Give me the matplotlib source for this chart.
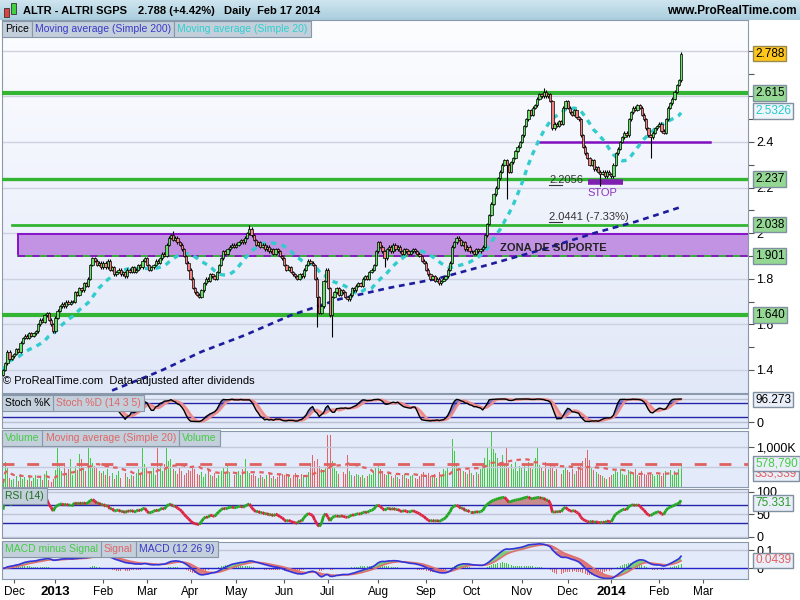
import numpy as np
import pandas as pd
import matplotlib
matplotlib.use("Agg")
import matplotlib.pyplot as plt
from matplotlib.patches import Rectangle
from matplotlib.collections import LineCollection
from matplotlib.colors import LinearSegmentedColormap
from matplotlib import transforms

plt.rcParams['font.family'] = ['Liberation Sans', 'DejaVu Sans']

# daily closes, one list per month
first_open = 1.38
nov12 = [1.40, 1.43, 1.48, 1.45, 1.46]
dec12 = [1.47, 1.49, 1.48, 1.52, 1.54, 1.55, 1.54, 1.56, 1.55, 1.56, 1.57, 1.60, 1.62, 1.61, 1.64,
         1.65, 1.62, 1.60, 1.57]
jan13 = [1.63, 1.66, 1.68, 1.69, 1.68, 1.70, 1.69, 1.70, 1.70, 1.74, 1.73, 1.76, 1.75, 1.78, 1.77,
         1.80, 1.86, 1.89, 1.88, 1.86, 1.87, 1.85]
feb13 = [1.87, 1.85, 1.88, 1.84, 1.85, 1.82, 1.83, 1.84, 1.82, 1.83, 1.81, 1.84, 1.83, 1.85, 1.83,
         1.84, 1.86, 1.85, 1.88, 1.89]
mar13 = [1.86, 1.84, 1.85, 1.86, 1.88, 1.87, 1.89, 1.91, 1.90, 1.95, 1.98, 1.99, 1.97, 1.98, 1.96,
         1.95, 1.93, 1.90, 1.87, 1.84]
apr13 = [1.80, 1.76, 1.74, 1.73, 1.72, 1.75, 1.78, 1.80, 1.79, 1.82, 1.81, 1.80, 1.83, 1.86, 1.89,
         1.92, 1.91, 1.93, 1.94, 1.95, 1.94]
may13 = [1.95, 1.96, 1.97, 1.96, 1.98, 2.00, 2.02, 1.99, 1.97, 1.95, 1.96, 1.94, 1.95, 1.93, 1.94,
         1.92, 1.93, 1.91, 1.93, 1.92, 1.90, 1.89]
jun13 = [1.86, 1.84, 1.85, 1.83, 1.82, 1.81, 1.80, 1.82, 1.81, 1.84, 1.86, 1.88, 1.87, 1.86, 1.80,
         1.72, 1.65, 1.68, 1.79, 1.84]
jul13 = [1.76, 1.64, 1.72, 1.74, 1.76, 1.73, 1.75, 1.74, 1.72, 1.71, 1.73, 1.76, 1.75, 1.77, 1.78,
         1.77, 1.80, 1.81, 1.80, 1.83, 1.84, 1.86, 1.92]
aug13 = [1.96, 1.94, 1.92, 1.89, 1.93, 1.94, 1.92, 1.95, 1.93, 1.94, 1.92, 1.91, 1.93, 1.92, 1.91,
         1.92, 1.93, 1.92, 1.91, 1.90, 1.88, 1.87]
sep13 = [1.84, 1.82, 1.80, 1.81, 1.79, 1.80, 1.78, 1.79, 1.80, 1.81, 1.84, 1.87, 1.94, 1.96, 1.98,
         1.97, 1.95, 1.96, 1.93, 1.94, 1.92]
oct13 = [1.92, 1.91, 1.93, 1.92, 1.93, 1.94, 1.99, 2.04, 2.08, 2.13, 2.17, 2.20, 2.24, 2.27, 2.30,
         2.32, 2.30, 2.27, 2.31, 2.33, 2.36, 2.38, 2.40]
nov13 = [2.43, 2.47, 2.50, 2.54, 2.52, 2.55, 2.56, 2.59, 2.61, 2.60, 2.62, 2.60, 2.61, 2.58, 2.46,
         2.48, 2.47, 2.49, 2.48, 2.55, 2.58]
dec13 = [2.55, 2.53, 2.52, 2.54, 2.51, 2.50, 2.43, 2.38, 2.35, 2.33, 2.30, 2.32, 2.28, 2.29, 2.27,
         2.26, 2.27, 2.25, 2.27, 2.26]
jan14 = [2.25, 2.30, 2.35, 2.37, 2.40, 2.42, 2.44, 2.43, 2.50, 2.53, 2.55, 2.54, 2.56, 2.55, 2.52,
         2.50, 2.46, 2.43, 2.42, 2.44, 2.46, 2.47]
feb14 = [2.48, 2.45, 2.44, 2.50, 2.55, 2.57, 2.59, 2.62, 2.65, 2.67, 2.788]

# daily volume in thousands of shares
v_nov12 = [90, 620, 480, 220, 160]
v_dec12 = [180, 260, 150, 320, 200, 240, 160, 300, 140, 220, 280, 190, 250, 160, 310, 380, 170, 120, 200]
v_jan13 = [420, 1000, 520, 380, 600, 340, 450, 680, 300, 520, 410, 820, 700, 460, 380, 1000, 720, 580,
           520, 460, 400, 350]
v_feb13 = [380, 300, 450, 260, 340, 200, 300, 380, 220, 280, 350, 240, 200, 300, 260, 350, 440, 320,
           1000, 560]
v_mar13 = [460, 340, 380, 480, 300, 1000, 520, 400, 560, 1000, 640, 700, 450, 400, 320, 480, 380, 300,
           340, 420]
v_apr13 = [400, 520, 440, 320, 280, 360, 240, 320, 420, 300, 260, 340, 220, 280, 400, 470, 320, 540,
           360, 300, 280]
v_may13 = [320, 380, 300, 440, 700, 400, 340, 280, 320, 260, 220, 300, 240, 200, 280, 320, 220, 260,
           190, 240, 280, 320]
v_jun13 = [300, 260, 320, 220, 280, 340, 240, 200, 320, 280, 260, 370, 600, 780, 650, 700, 520, 440,
           400, 460]
v_jul13 = [1290, 1290, 640, 460, 400, 320, 440, 370, 320, 780, 380, 300, 260, 320, 280, 240, 300, 220,
           260, 320, 280, 360, 470]
v_aug13 = [520, 440, 400, 320, 280, 340, 260, 220, 300, 240, 200, 280, 320, 220, 180, 260, 300, 220,
           200, 270, 320, 360]
v_sep13 = [300, 340, 260, 280, 320, 220, 370, 300, 440, 400, 470, 620, 1190, 900, 580, 500, 440, 400,
           370, 320, 420]
v_oct13 = [340, 300, 370, 320, 440, 520, 720, 1000, 670, 1370, 950, 840, 720, 620, 780, 540, 970, 500,
           570, 440, 620, 400, 520]
v_nov13 = [470, 540, 400, 620, 500, 440, 720, 970, 540, 470, 400, 620, 440, 580, 500, 400, 440, 370,
           320, 420, 500]
v_dec13 = [420, 370, 440, 320, 400, 470, 520, 640, 720, 915, 670, 500, 420, 370, 320, 300, 270, 220,
           200, 240]
v_jan14 = [280, 320, 400, 370, 440, 320, 300, 280, 420, 370, 320, 440, 300, 260, 380, 320, 300, 280,
           340, 320, 270, 300]
v_feb14 = [280, 260, 330, 400, 360, 420, 300, 380, 340, 450, 578.79]

# long wicks
low_wicks = {'2013-06-24': 1.59, '2013-07-03': 1.545, '2013-08-06': 1.85, '2013-10-23': 2.15,
             '2013-12-23': 2.2056, '2014-01-28': 2.33}
high_wicks = {'2013-05-10': 2.036, '2013-11-15': 2.635, '2013-03-19': 2.01}

# 200 day average read at a few dates
ma200_dates = ['2013-02-07', '2013-03-11', '2013-04-09', '2013-05-08', '2013-06-06', '2013-07-08',
               '2013-08-08', '2013-09-09', '2013-10-10', '2013-11-15', '2013-12-18', '2014-01-17',
               '2014-02-17']
ma200_vals = [1.31, 1.395, 1.48, 1.553, 1.64, 1.71, 1.76, 1.80, 1.86, 1.93, 2.00, 2.05, 2.115]

levels = [2.615, 2.237, 2.038, 1.640]
zone = (1.901, 1.9965)

closes = np.array(nov12 + dec12 + jan13 + feb13 + mar13 + apr13 + may13 + jun13 + jul13 + aug13 +
                  sep13 + oct13 + nov13 + dec13 + jan14 + feb14)
volumes = np.array(v_nov12 + v_dec12 + v_jan13 + v_feb13 + v_mar13 + v_apr13 + v_may13 + v_jun13 +
                   v_jul13 + v_aug13 + v_sep13 + v_oct13 + v_nov13 + v_dec13 + v_jan14 + v_feb14) * 1000.0

holidays = pd.to_datetime(['2012-12-25', '2012-12-26', '2013-01-01', '2013-03-29', '2013-04-01',
                           '2013-05-01', '2013-12-25', '2013-12-26', '2014-01-01'])
days = pd.bdate_range('2012-11-26', '2014-03-31')
days = days[~days.isin(holidays)]

n = len(closes)
x = np.arange(n)
opens = np.r_[first_open, closes[:-1]]
up = closes >= opens
highs = np.maximum(opens, closes) + 0.006
lows = np.minimum(opens, closes) - 0.006
for d, v in low_wicks.items():
    lows[days.get_loc(pd.Timestamp(d))] = v
for d, v in high_wicks.items():
    highs[days.get_loc(pd.Timestamp(d))] = v

c = pd.Series(closes)
ma20 = c.rolling(20, min_periods=1).mean()
ma200_x = [days.get_loc(pd.Timestamp(d)) for d in ma200_dates]

# stochastic 14 3 5
ll = pd.Series(lows).rolling(14, min_periods=1).min()
hh = pd.Series(highs).rolling(14, min_periods=1).max()
raw = 100 * (c - ll) / (hh - ll)
stk = raw.rolling(3, min_periods=1).mean()
std = stk.rolling(5, min_periods=1).mean()

# RSI 14
dlt = c.diff().fillna(0)
gain = dlt.clip(lower=0).ewm(alpha=1 / 14, adjust=False).mean()
loss = (-dlt.clip(upper=0)).ewm(alpha=1 / 14, adjust=False).mean()
rsi = (100 - 100 / (1 + gain / loss.replace(0, 1e-9))).values
rsi[0] = 60

# MACD 12 26 9
macd = c.ewm(span=12, adjust=False).mean() - c.ewm(span=26, adjust=False).mean()
sig = macd.ewm(span=9, adjust=False).mean()
hist = macd - sig

vma = pd.Series(volumes).rolling(20, min_periods=1).mean()

XL = (-0.5, 341.7)
fig = plt.figure(figsize=(8, 6), dpi=100)
fig.patch.set_facecolor('white')
L, W = 2 / 800, 746 / 800
EDGE = '#8a9aac'


def panel(top, bottom, bg='#e3eaf9'):
    ax = fig.add_axes([L, 1 - bottom / 600, W, (bottom - top) / 600])
    ax.set_facecolor(bg)
    for s in ax.spines.values():
        s.set_color(EDGE)
    ax.yaxis.tick_right()
    ax.tick_params(axis='y', labelsize=9, length=4, color='#555555', pad=2)
    ax.tick_params(axis='x', bottom=False, labelbottom=False)
    return ax


def tabs(y_px, items):
    r = fig.canvas.get_renderer()
    xp = 3
    for label, col in items:
        t = fig.text((xp + 2) / 800, 1 - y_px / 600, label, color=col, fontsize=7.5, va='center',
                     ha='left', zorder=10,
                     bbox=dict(boxstyle='square,pad=0.3', fc='#c3cfdb', ec='#8797a8', lw=0.8))
        bb = t.get_window_extent(renderer=r)
        xp += bb.width + 6


def valbox(ax, y, text, tc, fc, ec='#8090a0'):
    tr = transforms.blended_transform_factory(fig.transFigure, ax.transData)
    ax.text(755 / 800, y, text, transform=tr, color=tc, fontsize=8.5, va='center', ha='left',
            zorder=20, clip_on=False,
            bbox=dict(boxstyle='square,pad=0.15', fc=fc, ec=ec, lw=1))


# title bar
tb = fig.add_axes([0, 1 - 20 / 600, 1, 20 / 600])
tb.imshow(np.linspace(0, 1, 50).reshape(-1, 1), aspect='auto', extent=[0, 1, 0, 1],
          cmap=LinearSegmentedColormap.from_list('tb', ['#cfe5ef', '#a9cddd']))
tb.set_xlim(0, 1)
tb.set_ylim(0, 1)
tb.axis('off')
tb.add_patch(Rectangle((4 / 800, 0.15), 5 / 800, 0.45, fc='#e04040', ec='#333333', lw=0.6))
tb.add_patch(Rectangle((11 / 800, 0.3), 5 / 800, 0.55, fc='#40d040', ec='#333333', lw=0.6))
fig.text(23 / 800, 1 - 11 / 600, 'ALTR - ALTRI SGPS', fontsize=8, fontweight='bold', va='center')
fig.text(138 / 800, 1 - 11 / 600, '2.788 (+4.42%)', fontsize=8, fontweight='bold', va='center')
fig.text(224 / 800, 1 - 11 / 600, 'Daily  Feb 17 2014', fontsize=8, fontweight='bold', va='center')
fig.text(797 / 800, 1 - 11 / 600, 'www.ProRealTime.com', fontsize=8.5, fontweight='bold',
         va='center', ha='right')

# main price panel
ax = panel(20, 393)
YL = (1.299, 2.935)
ax.imshow(np.linspace(0, 1, 100).reshape(-1, 1), aspect='auto', extent=[XL[0], XL[1], YL[0], YL[1]],
          cmap=LinearSegmentedColormap.from_list('bg', ['#fcfdff', '#e1e8f8']), zorder=0)
for g in np.arange(1.4, 2.81, 0.2):
    ax.axhline(g, color='#cdd1e2', lw=1, zorder=1)
ax.add_patch(Rectangle((6.8, zone[0]), 400, zone[1] - zone[0], fc='#c293e2', ec='#8a10c8', lw=1.4,
                       zorder=2))
ax.plot([6.8, 400], [zone[0], zone[0]], color='#33bb33', lw=1.3, zorder=3)
ax.plot([6.8, 400], [zone[0], zone[0]], color='#8a10c8', lw=1.3, dashes=(4, 4), zorder=3)
ax.axhline(levels[0], color='#33b533', lw=3, zorder=3)
ax.axhline(levels[1], color='#33b533', lw=2.4, zorder=3)
ax.plot([4, 400], [levels[2], levels[2]], color='#33b533', lw=2, zorder=3)
ax.axhline(levels[3], color='#33b533', lw=3, zorder=3)
ax.plot([246.3, 324.3], [2.4, 2.4], color='#8010c0', lw=1.8, zorder=3)
ax.plot([268.3, 284.4], [2.226, 2.226], color='#8020b0', lw=4, solid_capstyle='butt', zorder=3)

ax.plot(ma200_x, ma200_vals, color='#1c1c9c', lw=1.9, dashes=(2.2, 1.8), zorder=4)
ax.plot(x, ma20, color='#33cccc', lw=2.4, dashes=(1.6, 1.6), zorder=4)

ax.vlines(x, lows, highs, color='black', lw=0.8, zorder=5)
body = np.maximum(np.abs(closes - opens), 0.004)
ax.bar(x, body, bottom=np.minimum(opens, closes), width=1.05,
       color=np.where(up, '#66e066', '#f28282'), edgecolor='black', linewidth=0.5, zorder=6)

ax.text(250.4, 2.233, '2.2056', fontsize=8, color='#333333', va='center', zorder=7)
ax.plot([250.4, 256.5], [2.212, 2.212], color='#333333', lw=0.8, zorder=7)
ax.text(274.7, 2.176, 'STOP', fontsize=8, color='#9030c0', va='center', ha='center', zorder=7)
ax.text(250.4, 2.071, '2.0441 (-7.33%)', fontsize=8, color='#333333', va='center', zorder=7)
ax.plot([250.4, 256.5], [2.05, 2.05], color='#333333', lw=0.8, zorder=7)
ax.text(228, 1.937, 'ZONA DE SUPORTE', fontsize=8, fontweight='bold', color='#222222', va='center',
        zorder=7)
ax.text(1 / 746, 0.02, '\u00a9 ProRealTime.com  Data adjusted after dividends', transform=ax.transAxes,
        fontsize=8, va='bottom', zorder=7)

ax.set_xlim(*XL)
ax.set_ylim(*YL)
ax.set_yticks(np.arange(1.4, 2.81, 0.1).round(1))
ax.set_yticklabels(['1.4', '', '1.6', '', '1.8', '', '2', '', '2.2', '', '2.4', '', '', '', ''])
valbox(ax, 2.788, '2.788', 'black', '#ffc61e', '#9a8a50')
valbox(ax, 2.615, '2.615', 'black', '#94d894')
valbox(ax, 2.536, '2.5326', '#22cccc', '#f0f5fb')
valbox(ax, 2.237, '2.237', 'black', '#94d894')
valbox(ax, 2.038, '2.038', 'black', '#94d894')
valbox(ax, 1.901, '1.901', 'black', '#94d894')
valbox(ax, 1.640, '1.640', 'black', '#94d894')
tabs(29, [('Price', 'black'), ('Moving average (Simple 200)', '#3a3ac8'),
          ('Moving average (Simple 20)', '#2fd0d0')])

# stochastic panel
a1 = panel(394, 428)
a1.axhline(0, color='#b8bfd0', lw=1)
a1.axhline(100, color='#b8bfd0', lw=1)
a1.fill_between(x, stk, std, where=stk >= std, color='#7a7ad0', interpolate=True, lw=0)
a1.fill_between(x, stk, std, where=stk < std, color='#f2a8a8', interpolate=True, lw=0)
a1.axhline(80, color='#2424a8', lw=1)
a1.axhline(20, color='#2424a8', lw=1)
a1.plot(x, std, color='#ee8c8c', lw=1.8)
a1.plot(x, stk, color='black', lw=1)
a1.set_xlim(*XL)
a1.set_ylim(-25.7, 120)
a1.set_yticks([0])
a1.set_yticklabels(['0'])
valbox(a1, 96.3, '96.273', 'black', '#e9eef8')
tabs(403, [('Stoch %K', 'black'), ('Stoch %D (14 3 5)', '#e06666')])

# volume panel
a2 = panel(431, 487)
a2.axhline(500000, color='#c4cadb', lw=1)
a2.axhline(1000000, color='#c4cadb', lw=1)
vup = closes >= np.r_[first_open, closes[:-1]]
a2.bar(x, volumes, width=0.45, color=np.where(vup, '#45c845', '#e26464'), lw=0)
a2.plot(x, vma, color='#e06060', lw=1.6, dashes=(2, 2))
a2.axhline(578790, color='#e06060', lw=2, dashes=(4.3, 4.6))
a2.set_xlim(*XL)
a2.set_ylim(-7500, 1392000)
a2.set_yticks([1000000])
a2.set_yticklabels(['1,000K'])
valbox(a2, 333339, '333,339', '#e06060', '#e9eef8')
valbox(a2, 578790, '578,790', '#44cc44', '#e9eef8')
tabs(438, [('Volume', '#44cc44'), ('Moving average (Simple 20)', '#e06666'), ('Volume', '#44cc44')])

# RSI panel
a3 = panel(489, 538)
for g in (0, 50, 100):
    a3.axhline(g, color='#c0c6d8', lw=1)
a3.fill_between(x, rsi, 70, where=rsi > 70, color='#c88c8c', interpolate=True, lw=0)
a3.fill_between(x, rsi, 30, where=rsi < 30, color='#c88c8c', interpolate=True, lw=0)
a3.axhline(70, color='#2424a8', lw=1)
a3.axhline(30, color='#2424a8', lw=1)
seg = np.stack([np.column_stack([x[:-1], rsi[:-1]]), np.column_stack([x[1:], rsi[1:]])], axis=1)
a3.add_collection(LineCollection(seg, colors=np.where(np.diff(rsi) >= 0, '#22a822', '#dd2244'),
                                 linewidths=2))
a3.set_xlim(*XL)
a3.set_ylim(-2.9, 106)
a3.set_yticks([0, 50, 100])
a3.set_yticklabels(['0', '50', '100'])
valbox(a3, 75.3, '75.331', '#2a9a2a', '#e9eef8')
tabs(496, [('RSI (14)', '#1e6e1e')])

# MACD panel
a4 = panel(542, 579)
a4.axhline(0.1, color='#c0c6d8', lw=1)
a4.bar(x, hist, width=0.45, color=np.where(hist >= 0, '#45c845', '#e26464'), lw=0)
a4.fill_between(x, macd, sig, where=macd >= sig, color='#78d078', interpolate=True, lw=0)
a4.fill_between(x, macd, sig, where=macd < sig, color='#dc7c7c', interpolate=True, lw=0)
a4.axhline(0, color='#2424c8', lw=1)
a4.plot(x, sig, color='#e07070', lw=1.2)
a4.plot(x, macd, color='#3434dc', lw=1.2)
a4.set_xlim(*XL)
a4.set_ylim(-0.058, 0.144)
a4.set_yticks([0, 0.1])
a4.set_yticklabels(['0', '0.1'])
valbox(a4, 0.0439, '0.0439', '#e06060', '#e9eef8')
tabs(549, [('MACD minus Signal', '#44cc44'), ('Signal', '#e06666'), ('MACD (12 26 9)', '#3a3ac8')])

# date axis
month_start = days.to_series().groupby(days.to_period('M')).first()
tick_x, tick_lab = [], []
for per, d in month_start.items():
    if d < pd.Timestamp('2012-12-01'):
        continue
    tick_x.append(days.get_loc(d))
    tick_lab.append(str(per.year) if per.month == 1 else d.strftime('%b'))
a4.set_xticks(tick_x)
a4.set_xticklabels(tick_lab)
a4.tick_params(axis='x', bottom=True, labelbottom=True, length=3, color='#555555', labelsize=8.5,
               pad=2)
for t in a4.get_xticklabels():
    if t.get_text().isdigit():
        t.set_fontweight('bold')
        t.set_fontsize(9.5)

fig.savefig('out.png', dpi=100, facecolor='white')
